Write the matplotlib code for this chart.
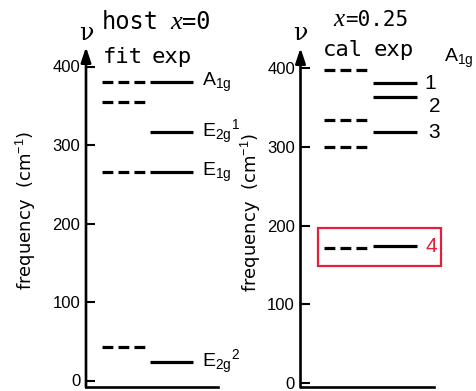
import matplotlib
matplotlib.use("Agg")
import matplotlib.pyplot as plt
from matplotlib import font_manager
from matplotlib.patches import Rectangle
import matplotlib.transforms as mtransforms

# ---------------- data ----------------
host_fit = [380, 355, 265, 43]
host_exp = [380, 316, 265, 23]
host_exp_labels = [r"A$_{\mathrm{1g}}$", r"E$_{\mathrm{2g}}$$^{1}$", r"E$_{\mathrm{1g}}$", r"E$_{\mathrm{2g}}$$^{2}$"]

dop_cal = [398, 334, 300, 172]
dop_exp = [381, 364, 319, 174]
dop_exp_labels = ["1", "2", "3", "4"]

yticks = [0, 100, 200, 300, 400]

W, H = 477, 391
DPI = 100

avail = {f.name for f in font_manager.fontManager.ttflist}
SANS = "Liberation Sans Narrow" if "Liberation Sans Narrow" in avail else "Liberation Sans"
MONO = "DejaVu Sans Mono"

plt.rcParams["mathtext.fontset"] = "custom"
plt.rcParams["mathtext.rm"] = SANS
plt.rcParams["mathtext.it"] = SANS + ":italic"
plt.rcParams["font.family"] = [SANS, "DejaVu Sans"]

fig = plt.figure(figsize=(W / DPI, H / DPI), dpi=DPI)

def px(x, y):
    return x / W, 1 - y / H

def make_ax(x0, x1, ytop, ybot, y0val_px, scale):
    l, b = px(x0, ybot)
    ax = fig.add_axes([l, b, (x1 - x0) / W, (ybot - ytop) / H])
    ax.set_xlim(0, 1)
    ax.set_ylim((y0val_px - ybot) / scale, (y0val_px - ytop) / scale)
    for s in ["top", "right", "left"]:
        ax.spines[s].set_visible(False)
    ax.spines["bottom"].set_linewidth(1.9)
    ax.set_xticks([])
    ax.set_yticks(yticks)
    ax.set_yticklabels([str(t) for t in yticks], fontsize=12, family=SANS)
    ax.tick_params(axis="y", direction="in", length=6.5, width=1.5, pad=4)
    ax.patch.set_alpha(0)
    ax.annotate("", xy=(0, 1), xytext=(0, 0), xycoords="axes fraction",
                arrowprops=dict(arrowstyle="-|>,head_length=0.9,head_width=0.3",
                                lw=1.9, color="black", mutation_scale=10,
                                shrinkA=0, shrinkB=0), annotation_clip=False)
    return ax

axL = make_ax(86, 218, 47, 387.3, 380.5, 0.785)
axR = make_ax(300.5, 434, 48, 387.3, 383, 0.787)

LW = 2.3
DASH = (0, (3.4, 1.6))

def levels(ax, vals, x0, x1, dashed):
    for v in vals:
        ax.plot([x0, x1], [v, v], color="black", lw=LW,
                linestyle=DASH if dashed else "-", solid_capstyle="butt",
                dash_capstyle="butt", clip_on=False)

levels(axL, host_fit, 0.119, 0.447, True)
levels(axL, host_exp, 0.485, 0.813, False)
levels(axR, dop_cal, 0.176, 0.496, True)
levels(axR, dop_exp, 0.546, 0.871, False)

# labels left panel
for v, lab in zip(host_exp, host_exp_labels):
    axL.text(0.88, v, lab, fontsize=14, va="center", ha="left", family=SANS, clip_on=False)

# labels right panel
trR = mtransforms.blended_transform_factory(axR.transAxes, axR.transData)
for v, lab in zip(dop_exp, dop_exp_labels):
    col = "#e0203c" if lab == "4" else "black"
    xx = 0.94 if lab == "4" else (0.93 if lab == "1" else 0.96)
    yy = v
    if lab == "2":
        yy = v - 13
    elif lab == "3":
        yy = v - 1
    axR.text(xx, yy, lab, fontsize=15, va="center", ha="left", color=col,
             family=SANS, transform=trR, clip_on=False)

axR.add_patch(Rectangle((0.13, 148.5), 0.92, 48.5, transform=trR, fill=False,
                        edgecolor="#e0203c", lw=1.6, clip_on=False))
fig.text(*px(444, 58), r"A$_{\mathrm{1g}}$", fontsize=14, va="center", ha="left", family=SANS)

# headers
def header(x, y, s, ha="center", size=15):
    fig.text(*px(x, y), s, fontsize=size, family=MONO, ha=ha, va="center")

header(102, 22, "host", ha="left", size=17)
fig.text(*px(170, 23), "x", fontsize=19, family="Liberation Serif", style="italic", ha="left", va="center")
header(182, 22, "=0", ha="left", size=17)
fig.text(*px(333, 20), "x", fontsize=18, family="Liberation Serif", style="italic", ha="left", va="center")
header(345, 20, "=0.25", ha="left")
header(123, 57, "fit", size=16)
header(172, 57, "exp", size=16)
header(343, 50, "cal", size=16)
header(394, 50, "exp", size=16)

# nu symbols
fig.text(*px(86, 34), "ν", fontsize=17, family="DejaVu Serif", ha="center", va="center")
fig.text(*px(300, 34), "ν", fontsize=17, family="DejaVu Serif", ha="center", va="center")

# y labels
for xl, yc in [(26, 210), (251, 212)]:
    fig.text(*px(xl, yc), "frequency  (cm$^{-1}$)", fontsize=13, family="DejaVu Sans",
             rotation=90, ha="center", va="center")

fig.savefig("out.png", dpi=DPI)
